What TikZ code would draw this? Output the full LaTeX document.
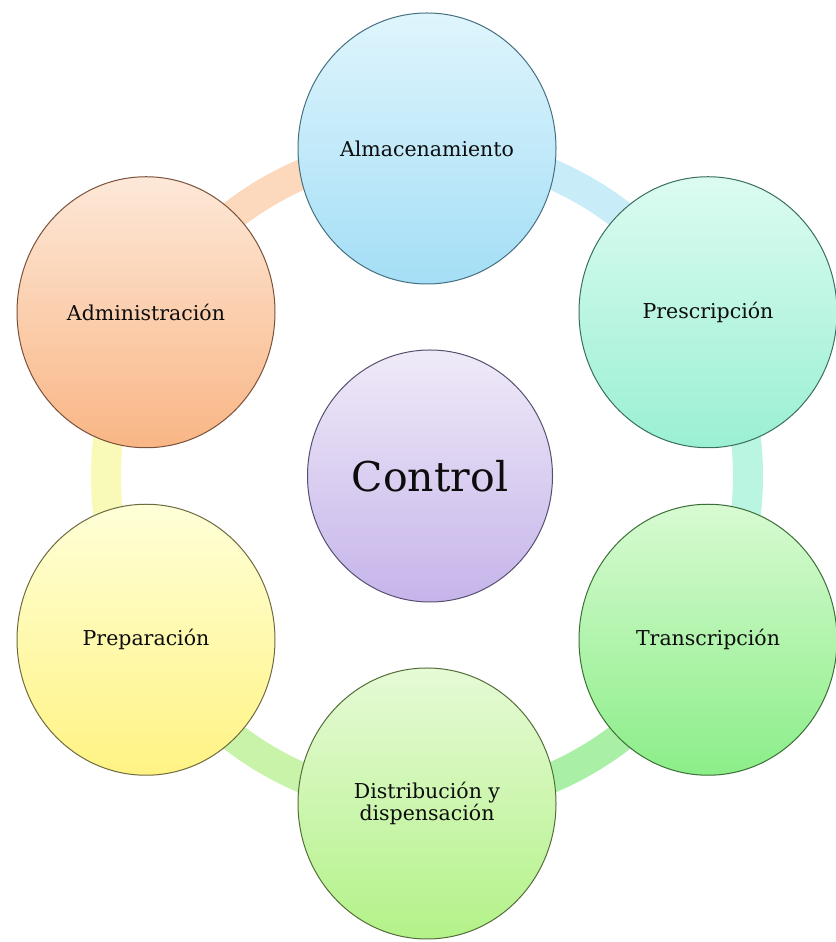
\documentclass[tikz,border=0pt]{standalone}
\usepackage{fontspec}
\setmainfont{DejaVu Serif}
\usetikzlibrary{shapes.geometric,backgrounds}
\definecolor{almT}{HTML}{DFF5FC}\definecolor{almB}{HTML}{A4DEF6}\definecolor{almD}{HTML}{46707F}
\definecolor{preT}{HTML}{DCFBF1}\definecolor{preB}{HTML}{9AF0D3}\definecolor{preD}{HTML}{3A6E5E}
\definecolor{traT}{HTML}{D8FAD2}\definecolor{traB}{HTML}{8BEE88}\definecolor{traD}{HTML}{3C6E38}
\definecolor{disT}{HTML}{E6FAD6}\definecolor{disB}{HTML}{B3F288}\definecolor{disD}{HTML}{536E38}
\definecolor{prpT}{HTML}{FFFFD8}\definecolor{prpB}{HTML}{FFF383}\definecolor{prpD}{HTML}{6E6A40}
\definecolor{admT}{HTML}{FDE8D8}\definecolor{admB}{HTML}{F9B685}\definecolor{admD}{HTML}{7A513A}
\definecolor{conT}{HTML}{EFEAF8}\definecolor{conB}{HTML}{C6B4EA}\definecolor{conD}{HTML}{565070}
\definecolor{arcAlm}{HTML}{C9ECF9}
\definecolor{arcPre}{HTML}{B9F5E1}
\definecolor{arcTra}{HTML}{A9F0A6}
\definecolor{arcDis}{HTML}{C8F3A8}
\definecolor{arcPrp}{HTML}{FAFAB8}
\definecolor{arcAdm}{HTML}{FCD8BD}
\tikzset{
  stage/.style={ellipse, minimum width=258pt, minimum height=271pt, inner sep=0pt,
    align=center, line width=1pt, text=black!95,
    font=\fontsize{20.5}{22.5}\selectfont},
  center stage/.style={stage, minimum width=245pt, minimum height=252pt,
    font=\fontsize{41}{46}\selectfont},
  ring/.style={line width=30pt, line cap=butt},
}
\begin{document}
\begin{tikzpicture}
\useasboundingbox (0,0) rectangle (835pt,942pt);
\coordinate (c) at (427pt,466pt);
\node[stage, draw=almD, top color=almT, bottom color=almB] (alm) at ([shift={(90:327.5pt)}]c) {Almacenamiento};
\node[stage, draw=preD, top color=preT, bottom color=preB] (pre) at (708pt,629.75pt) {Prescripción};
\node[stage, draw=traD, top color=traT, bottom color=traB] (tra) at (708pt,302.25pt) {Transcripción};
\node[stage, draw=disD, top color=disT, bottom color=disB] (dis) at ([shift={(-90:327.5pt)}]c) {Distribución y\\dispensación};
\node[stage, draw=prpD, top color=prpT, bottom color=prpB] (prp) at (146pt,302.25pt) {Preparación};
\node[stage, draw=admD, top color=admT, bottom color=admB] (adm) at (146pt,629.75pt) {Administración};
\node[center stage, draw=conD, top color=conT, bottom color=conB] (con) at (430pt,466pt) {Control};
\begin{pgfonlayer}{background}
\draw[ring, arcAlm] (alm.center) arc[start angle=90, end angle=30, x radius=321pt, y radius=327.5pt];
\draw[ring, arcPre] ([shift={(30:321pt and 327.5pt)}]c) arc[start angle=30, end angle=-30, x radius=321pt, y radius=327.5pt];
\draw[ring, arcTra] ([shift={(-30:321pt and 327.5pt)}]c) arc[start angle=-30, end angle=-90, x radius=321pt, y radius=327.5pt];
\draw[ring, arcDis] (dis.center) arc[start angle=-90, end angle=-150, x radius=321pt, y radius=327.5pt];
\draw[ring, arcPrp] ([shift={(-150:321pt and 327.5pt)}]c) arc[start angle=-150, end angle=-210, x radius=321pt, y radius=327.5pt];
\draw[ring, arcAdm] ([shift={(150:321pt and 327.5pt)}]c) arc[start angle=150, end angle=90, x radius=321pt, y radius=327.5pt];
\end{pgfonlayer}
\end{tikzpicture}
\end{document}
